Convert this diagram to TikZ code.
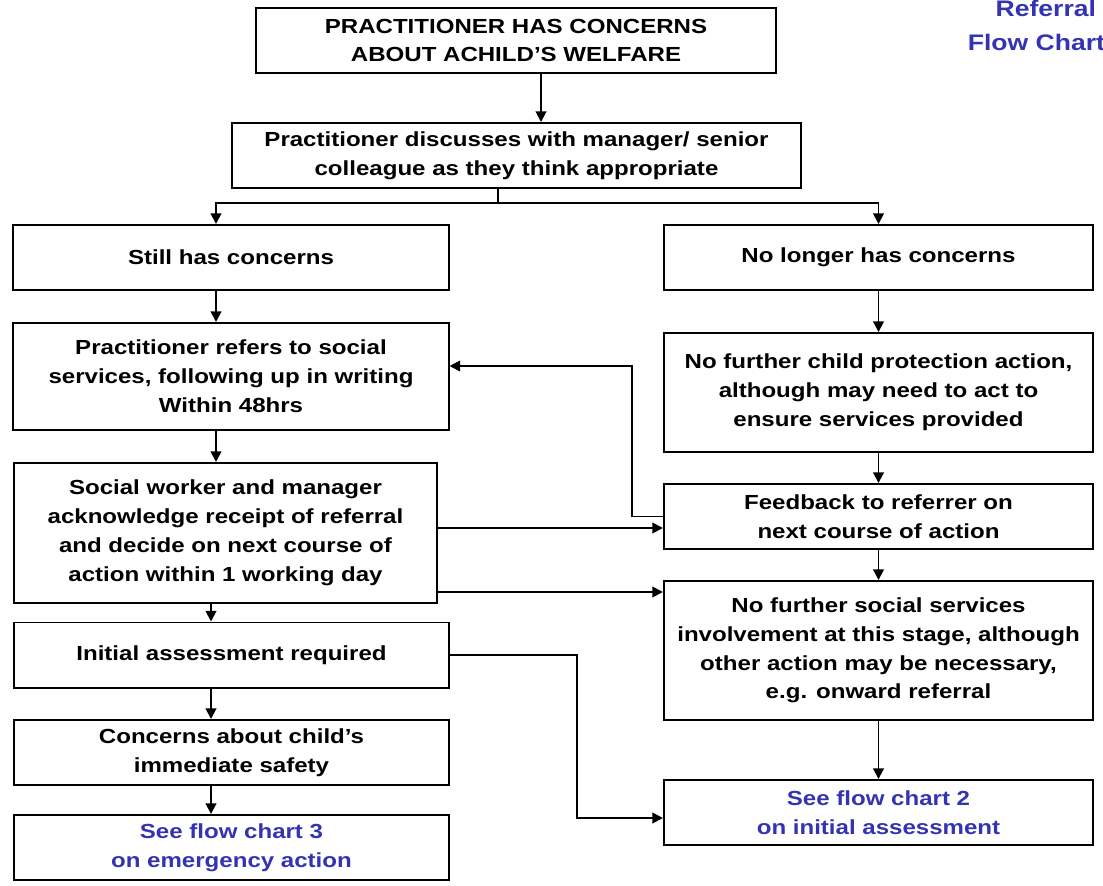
\documentclass[tikz,border=0pt]{standalone}
\usepackage{fontspec}
\setmainfont{Liberation Sans}[FakeStretch=1.18]
\usetikzlibrary{arrows.meta}
\definecolor{chartblue}{RGB}{52,52,178}
\begin{document}
\begin{tikzpicture}[x=0.025cm,y=-0.025cm,
  every node/.style={font=\fontsize{14.5}{20.5}\selectfont\bfseries},
  box/.style={draw,line width=1.4pt,inner sep=0pt,align=center,minimum height=1.625cm},
  lbox/.style={box,minimum width=10.875cm},
  rbox/.style={box,minimum width=10.725cm},
  link/.style={line width=1.4pt},
  arr/.style={link,-{Triangle[length=7.5pt,width=7.5pt]}},
  ref/.style={text=chartblue}]
  \clip (0,0) rectangle (1103,886);
  % title, cut by the page edge
  \node[ref,font=\fontsize{16}{20}\selectfont\bfseries,anchor=base east] (title1) at (1101,17) {Referral};
  \node[ref,font=\fontsize{16}{20}\selectfont\bfseries,anchor=base east] (title2) at (1110,51) {Flow Chart};
  % boxes
  \node[box,minimum width=13cm] (concern) at (516,40.5) {PRACTITIONER HAS CONCERNS\\ABOUT ACHILD’S WELFARE};
  \node[box,minimum width=14.225cm] (discuss) at (516.5,155.5) {Practitioner discusses with manager/ senior\\colleague as they think appropriate};
  \node[lbox] (still) at (231,257.5) {Still has concerns};
  \node[rbox] (nolonger) at (878.5,257.5) {No longer has concerns};
  \node[lbox,minimum height=2.675cm] (refers) at (231,376.5) {Practitioner refers to social\\services, following up in writing\\Within 48hrs};
  \node[rbox,minimum height=2.975cm] (noaction) at (878.5,392.5) {No further child protection action,\\although may need to act to\\ensure services provided};
  \node[box,minimum width=10.575cm,minimum height=3.5cm] (decide) at (225.5,533) {Social worker and manager\\acknowledge receipt of referral\\and decide on next course of\\action within 1 working day};
  \node[rbox] (feedback) at (878.5,516.5) {Feedback to referrer on\\next course of action};
  \node[rbox,minimum height=3.475cm] (noinvolve) at (878.5,650.5) {No further social services\\involvement at this stage, although\\other action may be necessary,\\e.g. onward referral};
  \node[lbox] (initial) at (231.5,655) {Initial assessment required};
  \node[lbox] (safety) at (231.5,752.5) {Concerns about child’s\\immediate safety};
  \node[lbox,ref] (chart3) at (231.5,847.5) {See flow chart 3\\on emergency action};
  \node[rbox,ref] (chart2) at (878.5,812.5) {See flow chart 2\\on initial assessment};
  % turning points of the connectors
  \coordinate (xmain) at (541,0);
  \coordinate (fork) at (498,203);
  \coordinate (xleft) at (216,0);
  \coordinate (xlow) at (211,0);
  \coordinate (hookturn) at (632,366);
  \coordinate (yfb) at (0,528);
  \coordinate (yni) at (0,592);
  \coordinate (iaturn) at (577,818);
  % connectors
  \draw[arr] (concern.south -| xmain) -- (discuss.north -| xmain);
  \draw[link] (discuss.south -| fork) -- (fork);
  \draw[arr] (fork) -| (still.north -| xleft);
  \draw[arr] (fork) -| (nolonger.north);
  \draw[arr] (still.south -| xleft) -- (refers.north -| xleft);
  \draw[arr] (refers.south -| xleft) -- (decide.north -| xleft);
  \draw[arr] (decide.south -| xlow) -- (initial.north -| xlow);
  \draw[arr] (initial.south -| xlow) -- (safety.north -| xlow);
  \draw[arr] (safety.south -| xlow) -- (chart3.north -| xlow);
  \draw[arr] (nolonger.south) -- (noaction.north);
  \draw[arr] (noaction.south) -- (feedback.north);
  \draw[arr] (feedback.south) -- (noinvolve.north);
  \draw[arr] (noinvolve.south) -- (chart2.north);
  \draw[arr] (feedback.west) -| (hookturn) -- (refers.east |- hookturn);
  \draw[arr] (decide.east |- yfb) -- (feedback.west |- yfb);
  \draw[arr] (decide.east |- yni) -- (noinvolve.west |- yni);
  \draw[arr] (initial.east) -| (iaturn) -- (chart2.west |- iaturn);
\end{tikzpicture}
\end{document}
